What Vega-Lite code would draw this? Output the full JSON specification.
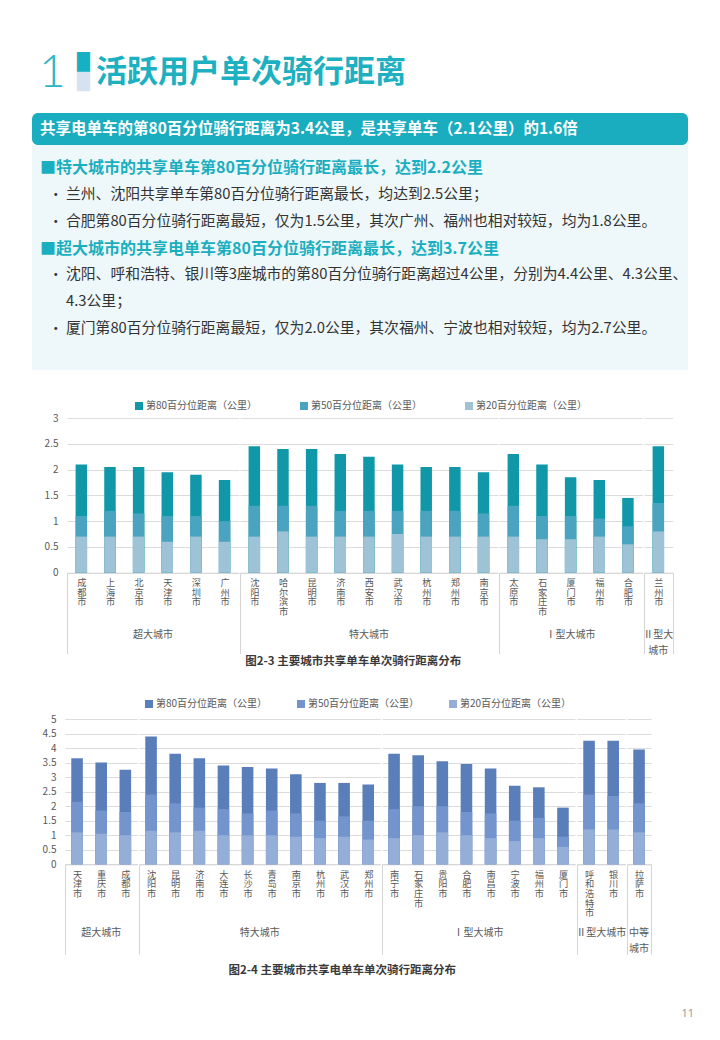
{
  "$schema": "https://vega.github.io/schema/vega-lite/v6.json",
  "padding": {"left": 32, "top": 32, "right": 10, "bottom": 10},
  "background": "white",
  "config": {"font": "Noto Sans CJK SC", "view": {"stroke": null}},
  "resolve": {"scale": {"color": "independent"}},
  "spacing": 31,
  "columns": 1,
  "concat": [
    {
      "spacing": 0,
      "vconcat": [
        {
          "width": 656,
          "height": 81,
          "data": {"values": [
            {"part": "num", "seg": "n", "t": "1"},
            {"part": "deco", "seg": "base", "t": "▌"},
            {"part": "deco", "seg": "top", "t": "▘"},
            {"part": "title", "seg": "t", "t": "活跃用户单次骑行距离"}
          ]},
          "encoding": {
            "x": {"field": "part", "type": "nominal", "scale": {"type": "point", "domain": ["num", "gap", "deco", "title"], "range": [7, 64], "padding": 0}, "axis": null},
            "text": {"field": "t"}
          },
          "layer": [
            {"transform": [{"filter": "datum.part == 'num'"}], "mark": {"type": "text", "align": "left", "baseline": "middle", "font": "Lato", "fontWeight": 300, "fontSize": 46, "color": "#2BB5C6"}},
            {"transform": [{"filter": "datum.seg == 'base'"}], "mark": {"type": "text", "align": "left", "baseline": "middle", "font": "DejaVu Sans", "fontSize": 33, "color": "#D5E3F0"}},
            {"transform": [{"filter": "datum.seg == 'top'"}], "mark": {"type": "text", "align": "left", "baseline": "middle", "font": "DejaVu Sans", "fontSize": 33, "color": "#17B0C2"}},
            {"transform": [{"filter": "datum.part == 'title'"}], "mark": {"type": "text", "align": "left", "baseline": "middle", "fontWeight": "bold", "fontSize": 31, "color": "#1DB0C1"}}
          ]
        },
        {
          "width": 656,
          "height": 32,
          "view": {"fill": "#1AADBF", "cornerRadius": 6, "stroke": null},
          "data": {"values": [{"k": "h", "t": "共享电单车的第80百分位骑行距离为3.4公里，是共享单车（2.1公里）的1.6倍"}]},
          "mark": {"type": "text", "align": "left", "baseline": "middle", "color": "white", "fontWeight": "bold", "fontSize": 15.5},
          "encoding": {
            "x": {"field": "k", "type": "nominal", "scale": {"type": "point", "domain": ["h"], "range": [8, 8]}, "axis": null},
            "text": {"field": "t"}
          }
        },
        {
          "width": 656,
          "height": 225,
          "view": {"fill": "#EEF8FA", "stroke": null},
          "data": {"values": [
            {"line": 1, "kind": "heading", "t": "■特大城市的共享单车第80百分位骑行距离最长，达到2.2公里"},
            {"line": 2, "kind": "bullet", "t": "•"},
            {"line": 2, "kind": "body", "t": "兰州、沈阳共享单车第80百分位骑行距离最长，均达到2.5公里；"},
            {"line": 3, "kind": "bullet", "t": "•"},
            {"line": 3, "kind": "body", "t": "合肥第80百分位骑行距离最短，仅为1.5公里，其次广州、福州也相对较短，均为1.8公里。"},
            {"line": 4, "kind": "heading", "t": "■超大城市的共享电单车第80百分位骑行距离最长，达到3.7公里"},
            {"line": 5, "kind": "bullet", "t": "•"},
            {"line": 5, "kind": "body", "t": "沈阳、呼和浩特、银川等3座城市的第80百分位骑行距离超过4公里，分别为4.4公里、4.3公里、"},
            {"line": 6, "kind": "body", "t": "4.3公里；"},
            {"line": 7, "kind": "bullet", "t": "•"},
            {"line": 7, "kind": "body", "t": "厦门第80百分位骑行距离最短，仅为2.0公里，其次福州、宁波也相对较短，均为2.7公里。"}
          ]},
          "encoding": {
            "x": {"field": "kind", "type": "nominal", "scale": {"type": "point", "domain": ["heading", "bullet", "gap", "body"], "range": [8, 34], "padding": 0}, "axis": null},
            "y": {"field": "line", "type": "quantitative", "scale": {"domain": [1, 7], "range": [23, 184], "nice": false, "zero": false}, "axis": null},
            "text": {"field": "t"}
          },
          "layer": [
            {"transform": [{"filter": "datum.kind == 'heading'"}], "mark": {"type": "text", "align": "left", "baseline": "middle", "fontWeight": "bold", "fontSize": 16, "color": "#1AAFC0"}},
            {"transform": [{"filter": "datum.kind == 'bullet'"}], "mark": {"type": "text", "align": "left", "baseline": "middle", "fontSize": 14, "color": "#333333"}},
            {"transform": [{"filter": "datum.kind == 'body'"}], "mark": {"type": "text", "align": "left", "baseline": "middle", "fontSize": 14.8, "color": "#333333"}}
          ]
        }
      ]
    },
    {
      "spacing": 0,
      "resolve": {"scale": {"color": "independent"}},
      "hconcat": [
        {"width": 1, "height": 1, "data": {"values": []}, "mark": {"type": "point", "opacity": 0}, "encoding": {}},
        {
          "data": {"values": [
            {"city": "成都市", "group": "超大城市", "p80": 2.1, "p50": 1.1, "p20": 0.7},
            {"city": "上海市", "group": "超大城市", "p80": 2.05, "p50": 1.2, "p20": 0.7},
            {"city": "北京市", "group": "超大城市", "p80": 2.05, "p50": 1.15, "p20": 0.7},
            {"city": "天津市", "group": "超大城市", "p80": 1.95, "p50": 1.1, "p20": 0.6},
            {"city": "深圳市", "group": "超大城市", "p80": 1.9, "p50": 1.1, "p20": 0.7},
            {"city": "广州市", "group": "超大城市", "p80": 1.8, "p50": 1.0, "p20": 0.6},
            {"city": "沈阳市", "group": "特大城市", "p80": 2.45, "p50": 1.3, "p20": 0.7},
            {"city": "哈尔滨市", "group": "特大城市", "p80": 2.4, "p50": 1.3, "p20": 0.8},
            {"city": "昆明市", "group": "特大城市", "p80": 2.4, "p50": 1.3, "p20": 0.7},
            {"city": "济南市", "group": "特大城市", "p80": 2.3, "p50": 1.2, "p20": 0.7},
            {"city": "西安市", "group": "特大城市", "p80": 2.25, "p50": 1.2, "p20": 0.7},
            {"city": "武汉市", "group": "特大城市", "p80": 2.1, "p50": 1.2, "p20": 0.75},
            {"city": "杭州市", "group": "特大城市", "p80": 2.05, "p50": 1.2, "p20": 0.7},
            {"city": "郑州市", "group": "特大城市", "p80": 2.05, "p50": 1.2, "p20": 0.7},
            {"city": "南京市", "group": "特大城市", "p80": 1.95, "p50": 1.15, "p20": 0.7},
            {"city": "太原市", "group": "Ⅰ型大城市", "p80": 2.3, "p50": 1.3, "p20": 0.7},
            {"city": "石家庄市", "group": "Ⅰ型大城市", "p80": 2.1, "p50": 1.1, "p20": 0.65},
            {"city": "厦门市", "group": "Ⅰ型大城市", "p80": 1.85, "p50": 1.1, "p20": 0.65},
            {"city": "福州市", "group": "Ⅰ型大城市", "p80": 1.8, "p50": 1.05, "p20": 0.7},
            {"city": "合肥市", "group": "Ⅰ型大城市", "p80": 1.45, "p50": 0.9, "p20": 0.55},
            {"city": "兰州市", "group": "Ⅱ型大城市", "p80": 2.45, "p50": 1.35, "p20": 0.8}
          ]},
          "transform": [{"fold": ["p80", "p50", "p20"], "as": ["series", "value"]}],
          "title": {"text": "图2-3 主要城市共享单车单次骑行距离分布", "orient": "bottom", "anchor": "middle", "fontSize": 11.5, "fontWeight": "bold", "color": "#3A3A3A", "offset": 0},
          "facet": {"column": {"field": "group", "type": "nominal", "sort": ["超大城市", "特大城市", "Ⅰ型大城市", "Ⅱ型大城市"], "title": null,
            "header": {"labelOrient": "bottom", "labelPadding": -25, "labelFontSize": 10, "labelColor": "#595959", "labelLineHeight": 16, "labelBaseline": "top",
              "labelExpr": "datum.value == 'Ⅱ型大城市' ? ['Ⅱ型大', '城市'] : datum.value"}}},
          "spacing": 0,
          "resolve": {"scale": {"x": "independent"}},
          "spec": {
            "width": {"step": 28.65},
            "height": 154.7,
            "mark": {"type": "bar", "width": {"band": 0.4}},
            "encoding": {
              "x": {"field": "city", "type": "nominal", "sort": null, "title": null, "scale": {"paddingInner": 0, "paddingOuter": 0},
                "axis": {"labelAngle": 0, "labelExpr": "split(datum.label, '')", "labelFontSize": 9.2, "labelLineHeight": 9.6, "labelColor": "#595959", "labelBaseline": "top", "labelPadding": -75, "labelLimit": 0,
                  "tickBand": "extent", "tickSize": 81, "tickColor": "#D5D5D5",
                  "tickOpacity": {"condition": {"test": "datum.index < 0 || datum.value == '兰州市'", "value": 1}, "value": 0},
                  "domainColor": "#D5D5D5"}},
              "y": {"field": "value", "type": "quantitative", "stack": null, "scale": {"domain": [0, 3], "nice": false},
                "axis": {"title": null, "values": [0, 0.5, 1, 1.5, 2, 2.5, 3], "format": "~g", "domain": false, "ticks": false, "labelColor": "#595959", "labelFontSize": 10, "labelPadding": 8, "gridColor": "#DCDCDC", "minExtent": 33, "maxExtent": 33}},
              "color": {"field": "series", "type": "nominal", "sort": ["p80", "p50", "p20"],
                "scale": {"domain": ["p80", "p50", "p20"], "range": ["#1097A8", "#4AA3BF", "#9EC3D6"]},
                "legend": {"orient": "none", "legendX": 67, "legendY": -17, "direction": "horizontal", "title": null, "symbolType": "square", "symbolSize": 64, "symbolStrokeWidth": 0, "labelFontSize": 10, "labelColor": "#595959", "columnPadding": 41, "labelOffset": 2,
                  "labelExpr": "datum.label == 'p80' ? '第80百分位距离（公里）' : datum.label == 'p50' ? '第50百分位距离（公里）' : '第20百分位距离（公里）'"}}
            }
          }
        }
      ]
    },
    {
      "spacing": 0,
      "resolve": {"scale": {"color": "independent"}},
      "hconcat": [
        {"width": 1, "height": 1, "data": {"values": []}, "mark": {"type": "point", "opacity": 0}, "encoding": {}},
        {
          "data": {"values": [
            {"city": "天津市", "group": "超大城市", "p80": 3.65, "p50": 2.15, "p20": 1.1},
            {"city": "重庆市", "group": "超大城市", "p80": 3.5, "p50": 1.85, "p20": 1.05},
            {"city": "成都市", "group": "超大城市", "p80": 3.25, "p50": 1.8, "p20": 1.0},
            {"city": "沈阳市", "group": "特大城市", "p80": 4.4, "p50": 2.4, "p20": 1.15},
            {"city": "昆明市", "group": "特大城市", "p80": 3.8, "p50": 2.1, "p20": 1.1},
            {"city": "济南市", "group": "特大城市", "p80": 3.65, "p50": 1.95, "p20": 1.15},
            {"city": "大连市", "group": "特大城市", "p80": 3.4, "p50": 1.9, "p20": 1.0},
            {"city": "长沙市", "group": "特大城市", "p80": 3.35, "p50": 1.75, "p20": 1.0},
            {"city": "青岛市", "group": "特大城市", "p80": 3.3, "p50": 1.85, "p20": 1.0},
            {"city": "南京市", "group": "特大城市", "p80": 3.1, "p50": 1.75, "p20": 0.95},
            {"city": "杭州市", "group": "特大城市", "p80": 2.8, "p50": 1.5, "p20": 0.9},
            {"city": "武汉市", "group": "特大城市", "p80": 2.8, "p50": 1.65, "p20": 0.95},
            {"city": "郑州市", "group": "特大城市", "p80": 2.75, "p50": 1.5, "p20": 0.85},
            {"city": "南宁市", "group": "Ⅰ型大城市", "p80": 3.8, "p50": 1.9, "p20": 0.9},
            {"city": "石家庄市", "group": "Ⅰ型大城市", "p80": 3.75, "p50": 2.0, "p20": 1.0},
            {"city": "贵阳市", "group": "Ⅰ型大城市", "p80": 3.55, "p50": 2.0, "p20": 1.1},
            {"city": "合肥市", "group": "Ⅰ型大城市", "p80": 3.45, "p50": 1.8, "p20": 1.0},
            {"city": "南昌市", "group": "Ⅰ型大城市", "p80": 3.3, "p50": 1.75, "p20": 0.9},
            {"city": "宁波市", "group": "Ⅰ型大城市", "p80": 2.7, "p50": 1.5, "p20": 0.8},
            {"city": "福州市", "group": "Ⅰ型大城市", "p80": 2.65, "p50": 1.6, "p20": 0.9},
            {"city": "厦门市", "group": "Ⅰ型大城市", "p80": 1.95, "p50": 0.95, "p20": 0.6},
            {"city": "呼和浩特市", "group": "Ⅱ型大城市", "p80": 4.25, "p50": 2.4, "p20": 1.2},
            {"city": "银川市", "group": "Ⅱ型大城市", "p80": 4.25, "p50": 2.35, "p20": 1.2},
            {"city": "拉萨市", "group": "中等城市", "p80": 3.95, "p50": 2.1, "p20": 1.1}
          ]},
          "transform": [{"fold": ["p80", "p50", "p20"], "as": ["series", "value"]}],
          "title": {"text": "图2-4 主要城市共享电单车单次骑行距离分布", "orient": "bottom", "anchor": "middle", "fontSize": 11.5, "fontWeight": "bold", "color": "#3A3A3A", "offset": 10},
          "facet": {"column": {"field": "group", "type": "nominal", "sort": ["超大城市", "特大城市", "Ⅰ型大城市", "Ⅱ型大城市", "中等城市"], "title": null,
            "header": {"labelOrient": "bottom", "labelPadding": -27, "labelFontSize": 10, "labelColor": "#595959", "labelLineHeight": 16, "labelBaseline": "top",
              "labelExpr": "datum.value == '中等城市' ? ['中等', '城市'] : datum.value"}}},
          "spacing": 0,
          "resolve": {"scale": {"x": "independent"}},
          "spec": {
            "width": {"step": 24.13},
            "height": 145.3,
            "mark": {"type": "bar", "width": {"band": 0.48}},
            "encoding": {
              "x": {"field": "city", "type": "nominal", "sort": null, "title": null, "scale": {"paddingInner": 0, "paddingOuter": 0},
                "axis": {"labelAngle": 0, "labelExpr": "split(datum.label, '')", "labelFontSize": 9.2, "labelLineHeight": 9.6, "labelColor": "#595959", "labelBaseline": "top", "labelPadding": -84, "labelLimit": 0,
                  "tickBand": "extent", "tickSize": 90, "tickColor": "#D5D5D5",
                  "tickOpacity": {"condition": {"test": "datum.index < 0 || datum.value == '拉萨市'", "value": 1}, "value": 0},
                  "domainColor": "#D5D5D5"}},
              "y": {"field": "value", "type": "quantitative", "stack": null, "scale": {"domain": [0, 5], "nice": false},
                "axis": {"title": null, "values": [0, 0.5, 1, 1.5, 2, 2.5, 3, 3.5, 4, 4.5, 5], "format": "~g", "domain": false, "ticks": false, "labelColor": "#595959", "labelFontSize": 10, "labelPadding": 8, "gridColor": "#DCDCDC", "minExtent": 31, "maxExtent": 31}},
              "color": {"field": "series", "type": "nominal", "sort": ["p80", "p50", "p20"],
                "scale": {"domain": ["p80", "p50", "p20"], "range": ["#5A7EB9", "#7394CC", "#95AED8"]},
                "legend": {"orient": "none", "legendX": 79, "legendY": -20, "direction": "horizontal", "title": null, "symbolType": "square", "symbolSize": 64, "symbolStrokeWidth": 0, "labelFontSize": 10, "labelColor": "#595959", "columnPadding": 28, "labelOffset": 2,
                  "labelExpr": "datum.label == 'p80' ? '第80百分位距离（公里）' : datum.label == 'p50' ? '第50百分位距离（公里）' : '第20百分位距离（公里）'"}}
            }
          }
        }
      ]
    },
    {
      "width": 656,
      "height": 10,
      "data": {"values": [{"k": "p", "t": "11"}]},
      "mark": {"type": "text", "align": "right", "baseline": "middle", "fontSize": 11, "color": "#9B9B9B", "font": "Noto Sans"},
      "encoding": {
        "x": {"field": "k", "type": "nominal", "scale": {"type": "point", "domain": ["p"], "range": [662, 662]}, "axis": null},
        "text": {"field": "t"}
      }
    }
  ]
}
